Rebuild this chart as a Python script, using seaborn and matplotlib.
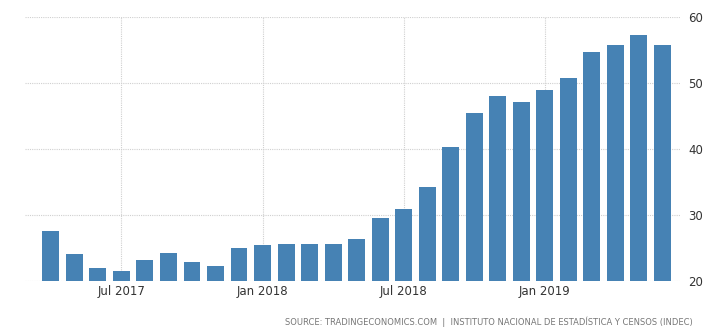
import matplotlib
matplotlib.use("Agg")
import matplotlib.pyplot as plt
import seaborn as sns
import pandas as pd

# Monthly series, Apr 2017 - Jun 2019
months = ["Apr 2017", "May 2017", "Jun 2017", "Jul 2017", "Aug 2017", "Sep 2017",
          "Oct 2017", "Nov 2017", "Dec 2017", "Jan 2018", "Feb 2018", "Mar 2018",
          "Apr 2018", "May 2018", "Jun 2018", "Jul 2018", "Aug 2018", "Sep 2018",
          "Oct 2018", "Nov 2018", "Dec 2018", "Jan 2019", "Feb 2019", "Mar 2019",
          "Apr 2019", "May 2019", "Jun 2019"]
values = [27.6, 24.1, 22.0, 21.5, 23.2, 24.2, 22.9, 22.3, 25.0, 25.5, 25.6, 25.6,
          25.6, 26.4, 29.5, 30.9, 34.2, 40.3, 45.4, 48.0, 47.1, 48.9, 50.8, 54.7,
          55.8, 57.3, 55.8]
tick_labels = ["Jul 2017", "Jan 2018", "Jul 2018", "Jan 2019"]
y_ticks = [20, 30, 40, 50, 60]
source_text = "SOURCE: TRADINGECONOMICS.COM  |  INSTITUTO NACIONAL DE ESTADÍSTICA Y CENSOS (INDEC)"

df = pd.DataFrame({"month": months, "value": values})

sns.set_theme(style="white")
plt.rcParams["font.family"] = ["DejaVu Sans"]

fig = plt.figure(figsize=(7.19, 3.35), dpi=100)
ax = fig.add_axes([25 / 719, 54 / 335, 655 / 719, 264 / 335])

sns.barplot(data=df, x="month", y="value", color="#4682b4", saturation=1,
            width=0.72, linewidth=0, ax=ax, zorder=3)

ax.set_ylim(20, 60)
ax.set_xlim(-1.1, 26.75)
ax.set_yticks(y_ticks)
ax.yaxis.tick_right()
ax.tick_params(axis="y", length=0, pad=6, labelsize=8.5, labelcolor="#333333")

tick_pos = [months.index(lbl) for lbl in tick_labels]
ax.set_xticks(tick_pos)
ax.set_xticklabels(tick_labels)
ax.tick_params(axis="x", length=0, pad=3, labelsize=8.5, labelcolor="#333333")
ax.set_xlabel("")
ax.set_ylabel("")

ax.grid(True, axis="both", color="#d0d0d0", linestyle=(0, (1, 1)), linewidth=0.8, zorder=0)
for s in ax.spines.values():
    s.set_visible(False)

fig.text(693 / 719, 1 - 322 / 335, source_text, ha="right", va="center",
         fontsize=6.0, color="#777777")

fig.savefig("out.png", dpi=100, facecolor="white")
